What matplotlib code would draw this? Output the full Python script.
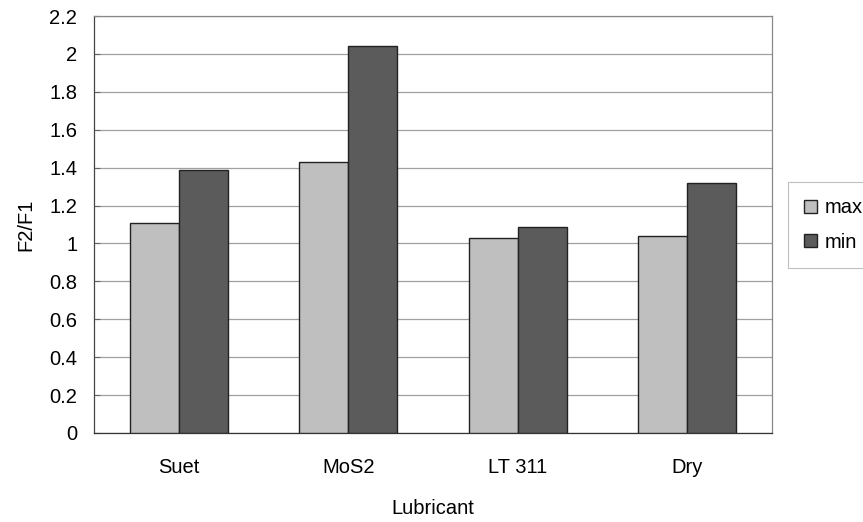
import matplotlib
matplotlib.use("Agg")
import matplotlib.pyplot as plt
import numpy as np

categories = ["Suet", "MoS2", "LT 311", "Dry"]
max_vals = [1.11, 1.43, 1.03, 1.04]
min_vals = [1.39, 2.04, 1.085, 1.32]
yticks = [0, 0.2, 0.4, 0.6, 0.8, 1, 1.2, 1.4, 1.6, 1.8, 2, 2.2]
ytick_labels = ["0", "0.2", "0.4", "0.6", "0.8", "1", "1.2", "1.4", "1.6", "1.8", "2", "2.2"]

plt.rcParams['font.family'] = ['Liberation Sans', 'DejaVu Sans']
fs = 14.5

fig = plt.figure(figsize=(8.63, 5.22), dpi=100)
ax = fig.add_axes([94 / 863, 89 / 522, 678 / 863, 417 / 522])

x = np.arange(len(categories))
w = 0.29
ax.bar(x - w / 2, max_vals, w, color="#bfbfbf", edgecolor="#222222", linewidth=1.0, label="max", zorder=3)
ax.bar(x + w / 2, min_vals, w, color="#5b5b5b", edgecolor="#222222", linewidth=1.0, label="min", zorder=3)

ax.set_xlim(-0.5, len(categories) - 0.5)
ax.set_ylim(0, 2.2)
ax.set_yticks(yticks)
ax.set_yticklabels(ytick_labels, fontsize=fs)
ax.set_xticks(x)
ax.set_xticklabels(categories, fontsize=fs)
ax.tick_params(axis='x', length=0, pad=18)
ax.tick_params(axis='y', length=4, direction='in', pad=12, color="#666666")
ax.yaxis.grid(True, color="#a0a0a0", linewidth=0.9, zorder=0)
ax.set_axisbelow(True)
for s in ax.spines.values():
    s.set_color("#888888")
    s.set_linewidth(0.9)
ax.spines['left'].set_color("#444444")
ax.spines['bottom'].set_color("#333333")

ax.set_ylabel("F2/F1", fontsize=fs, labelpad=10)
ax.set_xlabel("Lubricant", fontsize=fs, labelpad=16)

leg = fig.legend(handles=ax.get_legend_handles_labels()[0], labels=["max", "min"],
                 loc='center left', bbox_to_anchor=(788 / 863, (522 - 225) / 522),
                 frameon=True, fontsize=fs, handlelength=0.65, handleheight=0.65,
                 handletextpad=0.35, labelspacing=0.75, borderpad=0.8, borderaxespad=0,
                 fancybox=False, edgecolor="#b0b0b0")
leg.get_frame().set_linewidth(0.8)

fig.savefig("out.png", dpi=100)
